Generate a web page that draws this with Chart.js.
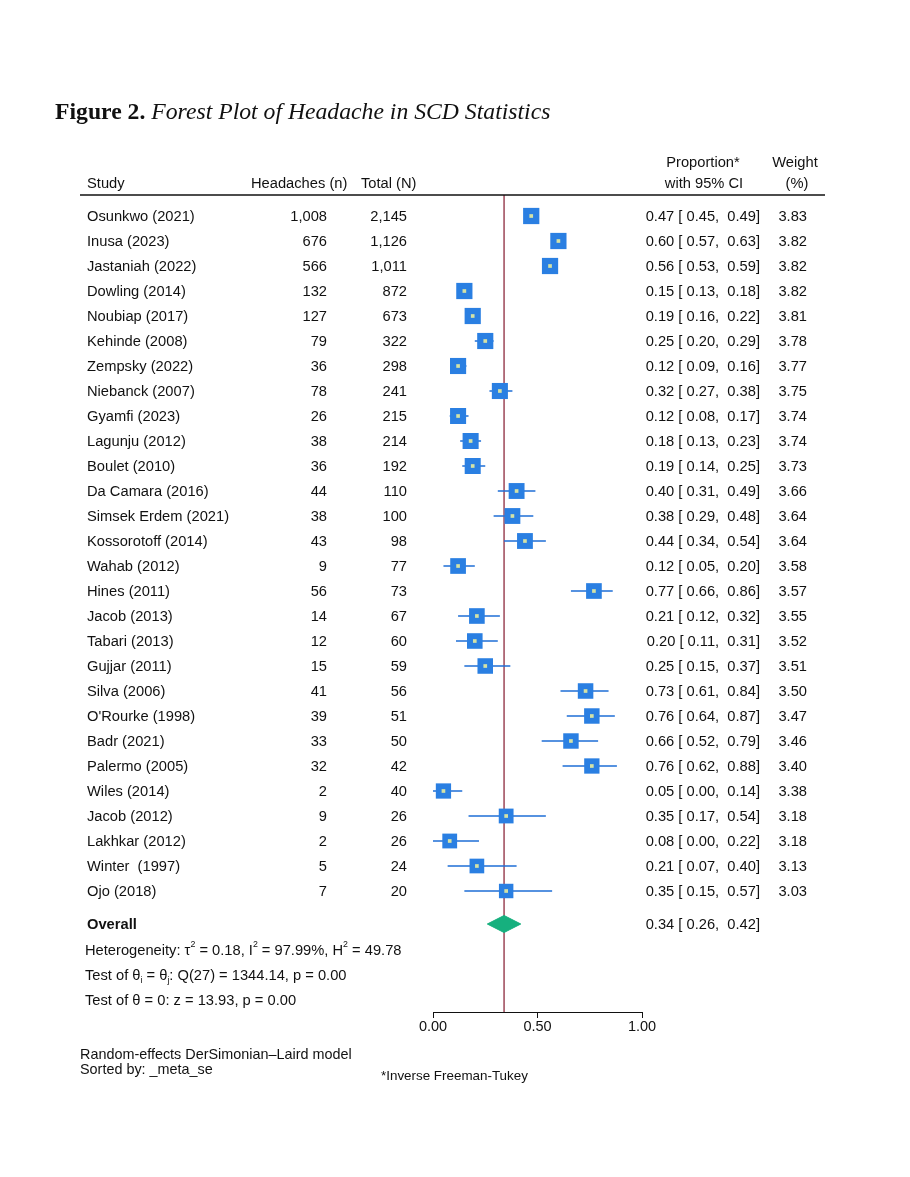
<!DOCTYPE html>
<html>
<head>
<meta charset="utf-8">
<script src="https://cdn.jsdelivr.net/npm/chart.js@4.4.1/dist/chart.umd.min.js"></script>
<style>
  html, body { margin:0; padding:0; background:#fff; }
  #forest { display:block; }
</style>
</head>
<body>
<canvas id="forest" width="910" height="1177"></canvas>
<script>
// study rows, in the plotted order (sorted by _meta_se)
var studies = ['Osunkwo (2021)','Inusa (2023)','Jastaniah (2022)','Dowling (2014)','Noubiap (2017)',
  'Kehinde (2008)','Zempsky (2022)','Niebanck (2007)','Gyamfi (2023)','Lagunju (2012)','Boulet (2010)',
  'Da Camara (2016)','Simsek Erdem (2021)','Kossorotoff (2014)','Wahab (2012)','Hines (2011)',
  'Jacob (2013)','Tabari (2013)','Gujjar (2011)','Silva (2006)',"O'Rourke (1998)",'Badr (2021)',
  'Palermo (2005)','Wiles (2014)','Jacob (2012)','Lakhkar (2012)','Winter  (1997)','Ojo (2018)'];
var cases  = [1008,676,566,132,127,79,36,78,26,38,36,44,38,43,9,56,14,12,15,41,39,33,32,2,9,2,5,7];
var totals = [2145,1126,1011,872,673,322,298,241,215,214,192,110,100,98,77,73,67,60,59,56,51,50,42,40,26,26,24,20];
var est    = [0.47,0.60,0.56,0.15,0.19,0.25,0.12,0.32,0.12,0.18,0.19,0.40,0.38,0.44,0.12,0.77,0.21,0.20,0.25,0.73,0.76,0.66,0.76,0.05,0.35,0.08,0.21,0.35];
var ciLow  = [0.45,0.57,0.53,0.13,0.16,0.20,0.09,0.27,0.08,0.13,0.14,0.31,0.29,0.34,0.05,0.66,0.12,0.11,0.15,0.61,0.64,0.52,0.62,0.00,0.17,0.00,0.07,0.15];
var ciHigh = [0.49,0.63,0.59,0.18,0.22,0.29,0.16,0.38,0.17,0.23,0.25,0.49,0.48,0.54,0.20,0.86,0.32,0.31,0.37,0.84,0.87,0.79,0.88,0.14,0.54,0.22,0.40,0.57];
var weights = [3.83,3.82,3.82,3.82,3.81,3.78,3.77,3.75,3.74,3.74,3.73,3.66,3.64,3.64,3.58,3.57,3.55,3.52,3.51,3.50,3.47,3.46,3.40,3.38,3.18,3.18,3.13,3.03];

// overall: estimate, lower, upper
var overall = [0.34, 0.26, 0.42];
var tau2 = 0.18, i2 = 97.99, h2 = 49.78, qStat = 1344.14, qDf = 27, zStat = 13.93, pQ = 0.00, pZ = 0.00;
var xTicks = [0, 0.5, 1];

var FONT = '"Liberation Sans", Arial, Helvetica, sans-serif';
var FS = 14.7;
var BLUE = '#2a7fe2';
var CI_BLUE = '#1f6fd6';
var GREEN = '#16b07e';
var RED = '#8e2b3e';

var nRows = studies.length;
var overallRow = nRows + 0.32;
var statRows = [nRows + 1.36, nRows + 2.36, nRows + 3.36];
var yTop = -0.84, yBottom = nRows + 3.84;

var ciData = [];
ciLow.forEach(function(lo, i){
    ciData.push({x: lo, y: i});
    ciData.push({x: ciHigh[i], y: i});
    ciData.push({x: null, y: null});
});
var pointData = est.map(function(v, i){ return {x: v, y: i}; });
var dHalf = 0.34;
var diamond = [
    {x: overall[1], y: overallRow},
    {x: overall[0], y: overallRow - dHalf},
    {x: overall[2], y: overallRow},
    {x: overall[0], y: overallRow + dHalf},
    {x: overall[1], y: overallRow}
];
var refLine = [{x: overall[0], y: yTop}, {x: overall[0], y: yBottom}];

function fmt2(v){ return v.toFixed(2); }
function ciText(e, lo, hi){ return fmt2(e) + ' [ ' + fmt2(lo) + ',  ' + fmt2(hi) + ']'; }

function richText(ctx, parts, x, y, size){
    parts.forEach(function(p){
        var t = typeof p === 'string' ? p : p[0];
        var kind = typeof p === 'string' ? '' : p[1];
        var s = kind ? size * 0.6 : size;
        ctx.font = s + 'px ' + FONT;
        var dy = kind === 'sup' ? -size * 0.45 : (kind === 'sub' ? size * 0.28 : 0);
        ctx.fillText(t, x, y + dy);
        x += ctx.measureText(t).width;
    });
}

var textPlugin = {
    id: 'forestText',
    beforeDraw: function(chart){
        var ctx = chart.ctx;
        ctx.save();
        ctx.fillStyle = '#fff';
        ctx.fillRect(0, 0, chart.width, chart.height);
        ctx.restore();
    },
    afterDraw: function(chart){
        var ctx = chart.ctx;
        var ys = chart.scales.y;
        var row = function(v){ return ys.getPixelForValue(v) + 1; };
        ctx.save();
        ctx.fillStyle = '#111';
        ctx.textBaseline = 'alphabetic';

        // title
        ctx.font = 'bold 23.7px "Liberation Serif", "Times New Roman", serif';
        ctx.textAlign = 'left';
        var t1 = 'Figure 2. ';
        ctx.fillText(t1, 55, 119);
        var w1 = ctx.measureText(t1).width;
        ctx.font = 'italic 23.7px "Liberation Serif", "Times New Roman", serif';
        ctx.fillText('Forest Plot of Headache in SCD Statistics', 55 + w1, 119);

        // header
        ctx.textBaseline = 'middle';
        ctx.font = FS + 'px ' + FONT;
        ctx.textAlign = 'left';
        ctx.fillText('Study', 87, 184);
        ctx.fillText('Headaches (n)', 251, 184);
        ctx.fillText('Total (N)', 361, 184);
        ctx.textAlign = 'center';
        ctx.fillText('Proportion*', 703, 163);
        ctx.fillText('with 95% CI', 704, 184);
        ctx.fillText('Weight', 795, 163);
        ctx.fillText('(%)', 797, 184);

        ctx.strokeStyle = '#111';
        ctx.lineWidth = 1.5;
        ctx.beginPath();
        ctx.moveTo(80, 195);
        ctx.lineTo(825, 195);
        ctx.stroke();

        // study rows
        studies.forEach(function(s, i){
            var y = row(i);
            ctx.textAlign = 'left';
            ctx.fillText(s, 87, y);
            ctx.textAlign = 'right';
            ctx.fillText(cases[i].toLocaleString('en-US'), 327, y);
            ctx.fillText(totals[i].toLocaleString('en-US'), 407, y);
            ctx.fillText(ciText(est[i], ciLow[i], ciHigh[i]), 760, y);
            ctx.fillText(fmt2(weights[i]), 807, y);
        });

        // overall
        var yo = row(overallRow);
        ctx.textAlign = 'left';
        ctx.font = 'bold ' + FS + 'px ' + FONT;
        ctx.fillText('Overall', 87, yo);
        ctx.font = FS + 'px ' + FONT;
        ctx.textAlign = 'right';
        ctx.fillText(ciText(overall[0], overall[1], overall[2]), 760, yo);

        ctx.textAlign = 'left';
        richText(ctx, ['Heterogeneity: \u03c4', ['2','sup'], ' = ' + fmt2(tau2) + ', I', ['2','sup'],
            ' = ' + fmt2(i2) + '%, H', ['2','sup'], ' = ' + fmt2(h2)], 85, row(statRows[0]), FS);
        richText(ctx, ['Test of \u03b8', ['i','sub'], ' = \u03b8', ['j','sub'],
            ': Q(' + qDf + ') = ' + fmt2(qStat) + ', p = ' + fmt2(pQ)], 85, row(statRows[1]), FS);
        richText(ctx, ['Test of \u03b8 = 0: z = ' + fmt2(zStat) + ', p = ' + fmt2(pZ)], 85, row(statRows[2]), FS);

        // notes
        ctx.font = '14.4px ' + FONT;
        ctx.fillText('Random-effects DerSimonian\u2013Laird model', 80, 1055);
        ctx.fillText('Sorted by: _meta_se', 80, 1070);
        ctx.font = '13.4px ' + FONT;
        ctx.fillText('*Inverse Freeman-Tukey', 381, 1076);
        ctx.restore();
    }
};

var ctx = document.getElementById('forest').getContext('2d');
var chart = new Chart(ctx, {
    type: 'scatter',
    data: {
        datasets: [{
            // small point-estimate dots, drawn on top
            data: pointData,
            pointStyle: 'rect',
            pointRadius: 2.6,
            pointBackgroundColor: '#d4e2a6',
            pointBorderWidth: 0
        }, {
            data: pointData,
            pointStyle: 'rect',
            pointRadius: function(c){ return 8.3 * Math.sqrt(weights[c.dataIndex]) / Math.SQRT2; },
            pointBackgroundColor: BLUE,
            pointBorderWidth: 0
        }, {
            data: ciData,
            showLine: true,
            borderColor: CI_BLUE,
            borderWidth: 1.4,
            pointRadius: 0,
            spanGaps: false
        }, {
            data: diamond,
            showLine: true,
            fill: 'shape',
            backgroundColor: GREEN,
            borderColor: GREEN,
            borderWidth: 1,
            pointRadius: 0
        }, {
            data: refLine,
            showLine: true,
            borderColor: RED,
            borderWidth: 1.3,
            pointRadius: 0
        }]
    },
    options: {
        responsive: false,
        animation: false,
        events: [],
        layout: { padding: { left: 433, right: 268, top: 195, bottom: 135 } },
        plugins: { legend: { display: false }, tooltip: { enabled: false } },
        scales: {
            x: {
                type: 'linear',
                min: 0, max: 1,
                afterBuildTicks: function(s){ s.ticks = xTicks.map(function(v){ return {value: v}; }); },
                afterFit: function(s){ s.height = 30; },
                border: { display: true, color: '#111', width: 1 },
                grid: { display: true, drawOnChartArea: false, drawTicks: true, tickLength: 6, color: '#111', lineWidth: 1 },
                ticks: {
                    padding: 0,
                    color: '#111',
                    font: { family: FONT, size: 14.5 },
                    callback: function(v){ return Number(v).toFixed(2); }
                }
            },
            y: {
                type: 'linear',
                display: false,
                reverse: true,
                min: yTop, max: yBottom
            }
        }
    },
    plugins: [textPlugin]
});
</script>
</body>
</html>
